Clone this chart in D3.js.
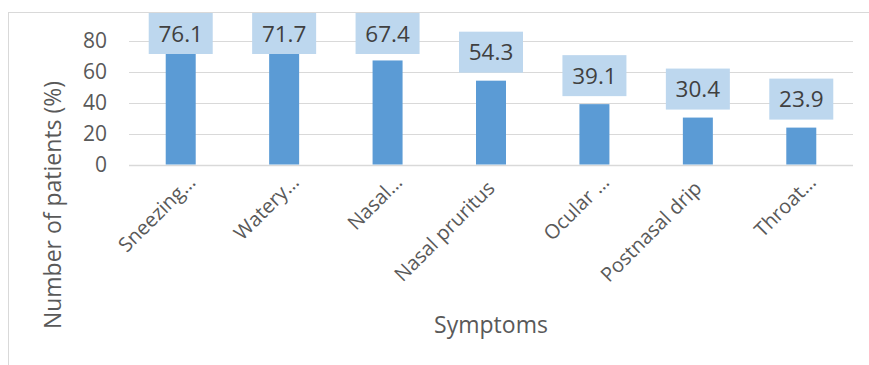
<!DOCTYPE html>
<html>
<head>
<meta charset="utf-8">
<script src="https://cdn.jsdelivr.net/npm/d3@7"></script>
<style>
  body { margin: 0; background: #fff; }
  svg { display: block; font-family: "Open Sans", "Liberation Sans", sans-serif; }
</style>
</head>
<body>
<div id="chart"></div>
<script>
const categories = ['Sneezing…', 'Watery…', 'Nasal…', 'Nasal pruritus', 'Ocular …', 'Postnasal drip', 'Throat…'];
const values = [76.1, 71.7, 67.4, 54.3, 39.1, 30.4, 23.9];
const yTicks = [0, 20, 40, 60, 80];

const width = 869, height = 365;
const margin = { top: 41, right: 16, bottom: 200.5, left: 129 };
const chartWidth = width - margin.left - margin.right;
const chartHeight = height - margin.top - margin.bottom;

const svg = d3.select('#chart')
    .append('svg')
    .attr('width', width)
    .attr('height', height);

// chart border
svg.append('rect')
    .attr('x', 8.5).attr('y', 12.5)
    .attr('width', 900).attr('height', 400)
    .attr('fill', 'none')
    .attr('stroke', '#d9d9d9');

const g = svg.append('g')
    .attr('transform', `translate(${margin.left},${margin.top})`);

const x = d3.scaleBand()
    .domain(categories)
    .range([0, chartWidth])
    .paddingInner(0.71)
    .paddingOuter(0.355);

const y = d3.scaleLinear()
    .domain([0, 80])
    .range([chartHeight, 0]);

// gridlines
g.selectAll('.grid')
    .data(yTicks)
    .enter()
    .append('line')
    .attr('x1', 0)
    .attr('x2', chartWidth)
    .attr('y1', d => Math.round(y(d)) + 0.5)
    .attr('y2', d => Math.round(y(d)) + 0.5)
    .attr('stroke', '#d9d9d9')
    .attr('stroke-width', d => d === 0 ? 1.5 : 1);

const yAxis = d3.axisLeft(y)
    .tickValues(yTicks)
    .tickSize(0)
    .tickPadding(22);

g.append('g')
    .call(yAxis)
    .call(a => a.select('.domain').remove())
    .selectAll('text')
    .attr('fill', '#595959')
    .style('font-size', '21px')
    .style('font-family', '"Open Sans", sans-serif');

// bars
g.selectAll('.bar')
    .data(values)
    .enter()
    .append('rect')
    .attr('x', (d, i) => x(categories[i]))
    .attr('y', d => y(d))
    .attr('width', x.bandwidth())
    .attr('height', d => chartHeight - y(d))
    .attr('fill', '#5b9bd5');

// data labels
const boxW = 64, boxH = 41;
const labels = g.selectAll('.lbl')
    .data(values)
    .enter()
    .append('g')
    .attr('transform', (d, i) => {
        const cx = x(categories[i]) + x.bandwidth() / 2;
        const top = Math.max(13 - margin.top, y(d) - 8 - boxH);
        return `translate(${cx},${top})`;
    });

labels.append('rect')
    .attr('x', -boxW / 2)
    .attr('width', boxW)
    .attr('height', boxH)
    .attr('fill', '#bdd7ee');

labels.append('text')
    .attr('x', 0)
    .attr('y', boxH / 2 + 8)
    .attr('text-anchor', 'middle')
    .attr('fill', '#404040')
    .style('font-size', '22.5px')
    .text(d => d.toFixed(1));

// category labels
g.selectAll('.cat')
    .data(categories)
    .enter()
    .append('text')
    .attr('text-anchor', 'end')
    .attr('fill', '#595959')
    .style('font-size', '20px')
    .attr('transform', d => {
        const cx = x(d) + x.bandwidth() / 2;
        const trunc = d.endsWith('…');
        return `translate(${cx + (trunc ? 16 : 5)},${chartHeight + (trunc ? 19 : 25)}) rotate(-45)`;
    })
    .text(d => d);

// axis titles
svg.append('text')
    .attr('transform', 'translate(61,205) rotate(-90)')
    .attr('text-anchor', 'middle')
    .attr('fill', '#595959')
    .style('font-size', '23px')
    .text('Number of patients (%)');

svg.append('text')
    .attr('x', margin.left + chartWidth / 2)
    .attr('y', 333)
    .attr('text-anchor', 'middle')
    .attr('fill', '#595959')
    .style('font-size', '23px')
    .text('Symptoms');
</script>
</body>
</html>
